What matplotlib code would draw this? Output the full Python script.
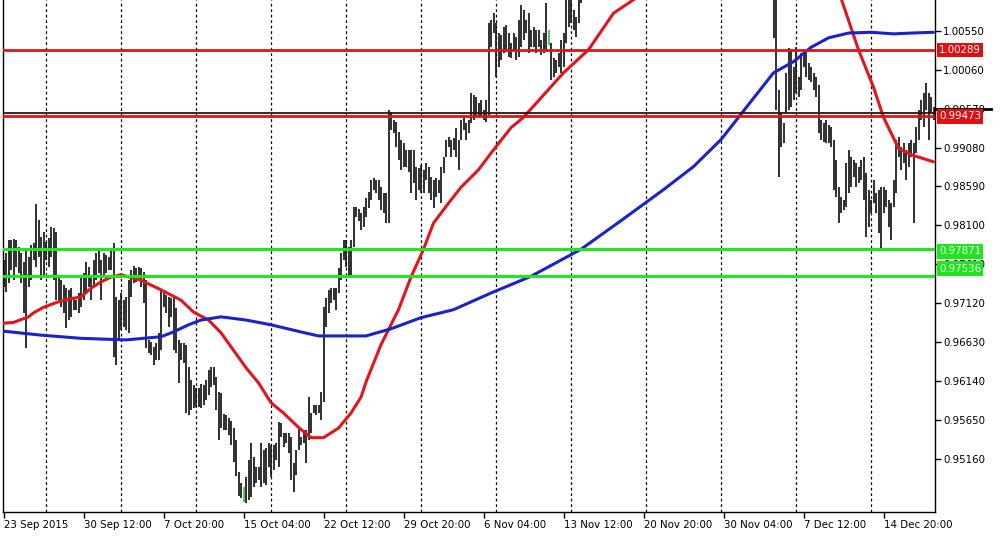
import matplotlib
matplotlib.use("Agg")
import matplotlib.pyplot as plt
import matplotlib.transforms as mtransforms
import numpy as np

# ---------------- data ----------------
highs_a = [
    0.9767, 0.9775, 0.9792, 0.9792, 0.9793, 0.9792, 0.9783, 0.9775, 0.9764, 0.9779, 0.9770, 0.9785, 0.9788, 0.9837, 0.9817, 0.9795,
    0.9802, 0.9789, 0.9794, 0.9808, 0.9807, 0.9802, 0.9744, 0.9741, 0.9735, 0.9731, 0.9729, 0.9731, 0.9720, 0.9716, 0.9725, 0.9745,
    0.9750, 0.9764, 0.9758, 0.9745, 0.9767, 0.9775, 0.9779, 0.9767, 0.9775, 0.9773, 0.9770, 0.9779, 0.9788, 0.9720, 0.9716, 0.9725,
    0.9716, 0.9720, 0.9741, 0.9754, 0.9759, 0.9756, 0.9758, 0.9756, 0.9751, 0.9741, 0.9666, 0.9663, 0.9657, 0.9662, 0.9675, 0.9729,
    0.9725, 0.9722, 0.9720, 0.9719, 0.9720, 0.9706, 0.9666, 0.9662, 0.9662, 0.9660, 0.9632, 0.9616, 0.9609, 0.9606, 0.9606, 0.9611,
    0.9609, 0.9616, 0.9628, 0.9632, 0.9632, 0.9619, 0.9600, 0.9599, 0.9573, 0.9572, 0.9568, 0.9564, 0.9555, 0.9540, 0.9500, 0.9486,
    0.9481, 0.9494, 0.9515, 0.9536, 0.9519, 0.9506, 0.9506, 0.9536, 0.9528, 0.9530, 0.9536, 0.9534, 0.9534, 0.9536, 0.9563, 0.9561,
    0.9549, 0.9549, 0.9549, 0.9544, 0.9511, 0.9528, 0.9556, 0.9544, 0.9553, 0.9553, 0.9594, 0.9574, 0.9584, 0.9584, 0.9584, 0.9600,
    0.9707, 0.9719, 0.9729, 0.9731, 0.9731, 0.9731, 0.9756, 0.9775, 0.9792, 0.9792, 0.9783, 0.9792, 0.9833, 0.9833, 0.9831, 0.9826,
    0.9833, 0.9845, 0.9852, 0.9867, 0.9870, 0.9867, 0.9867, 0.9858, 0.9851, 0.9851, 0.9955, 0.9953, 0.9943, 0.9940, 0.9928, 0.9917,
    0.9914, 0.9905, 0.9905, 0.9905, 0.9905, 0.9884, 0.9882, 0.9886, 0.9880, 0.9889, 0.9884, 0.9871, 0.9867, 0.9870, 0.9867, 0.9884,
    0.9896, 0.9917, 0.9921, 0.9917, 0.9920, 0.9933, 0.9917, 0.9943, 0.9946, 0.9939, 0.9943, 0.9977, 0.9974, 0.9972, 0.9964, 0.9968,
    0.9955, 0.9968, 1.0065, 1.0068, 1.0077, 1.0065, 1.0052, 1.0050, 1.0060, 1.0062, 1.0052, 1.0040, 1.0052, 1.0047, 1.0068, 1.0087,
    1.0081, 1.0068, 1.0077, 1.0056, 1.0060, 1.0056, 1.0056, 1.0043, 1.0052, 1.0090, 1.0056, 1.0040, 1.0021, 1.0018, 1.0027, 1.0043,
    1.0052, 1.0100, 1.0104, 1.0101, 1.0081, 1.0072, 1.0104, 1.0113,
]
lows_a = [
    0.9733, 0.9726, 0.9738, 0.9754, 0.9741, 0.9758, 0.9750, 0.9738, 0.9700, 0.9656, 0.9733, 0.9741, 0.9767, 0.9758, 0.9770, 0.9741,
    0.9745, 0.9767, 0.9758, 0.9770, 0.9741, 0.9716, 0.9716, 0.9707, 0.9700, 0.9681, 0.9691, 0.9695, 0.9704, 0.9704, 0.9700, 0.9707,
    0.9716, 0.9725, 0.9733, 0.9716, 0.9733, 0.9741, 0.9750, 0.9716, 0.9745, 0.9750, 0.9754, 0.9754, 0.9645, 0.9634, 0.9666, 0.9678,
    0.9682, 0.9678, 0.9675, 0.9720, 0.9738, 0.9739, 0.9741, 0.9733, 0.9712, 0.9656, 0.9650, 0.9647, 0.9634, 0.9641, 0.9641, 0.9653,
    0.9707, 0.9700, 0.9682, 0.9695, 0.9653, 0.9650, 0.9612, 0.9641, 0.9637, 0.9574, 0.9572, 0.9578, 0.9580, 0.9582, 0.9582, 0.9580,
    0.9584, 0.9590, 0.9597, 0.9607, 0.9609, 0.9578, 0.9540, 0.9555, 0.9553, 0.9553, 0.9546, 0.9534, 0.9512, 0.9495, 0.9470, 0.9467,
    0.9462, 0.9461, 0.9465, 0.9468, 0.9481, 0.9486, 0.9490, 0.9481, 0.9486, 0.9483, 0.9506, 0.9494, 0.9502, 0.9515, 0.9506, 0.9544,
    0.9531, 0.9536, 0.9524, 0.9490, 0.9475, 0.9496, 0.9528, 0.9534, 0.9536, 0.9511, 0.9540, 0.9549, 0.9574, 0.9572, 0.9574, 0.9565,
    0.9588, 0.9682, 0.9700, 0.9712, 0.9716, 0.9704, 0.9725, 0.9741, 0.9767, 0.9758, 0.9748, 0.9748, 0.9783, 0.9821, 0.9816, 0.9804,
    0.9808, 0.9821, 0.9832, 0.9842, 0.9855, 0.9851, 0.9842, 0.9829, 0.9826, 0.9813, 0.9813, 0.9930, 0.9926, 0.9909, 0.9892, 0.9880,
    0.9884, 0.9884, 0.9877, 0.9851, 0.9863, 0.9842, 0.9855, 0.9851, 0.9851, 0.9867, 0.9851, 0.9842, 0.9832, 0.9846, 0.9851, 0.9838,
    0.9876, 0.9896, 0.9909, 0.9896, 0.9905, 0.9896, 0.9880, 0.9917, 0.9930, 0.9917, 0.9926, 0.9939, 0.9943, 0.9946, 0.9946, 0.9946,
    0.9943, 0.9940, 0.9949, 1.0034, 1.0052, 0.9997, 1.0009, 1.0018, 1.0027, 1.0028, 1.0022, 1.0021, 1.0031, 1.0018, 1.0022, 1.0034,
    1.0043, 1.0052, 1.0027, 1.0034, 1.0034, 1.0027, 1.0034, 1.0024, 1.0027, 1.0031, 1.0037, 0.9993, 0.9997, 1.0002, 1.0009, 1.0002,
    1.0009, 1.0040, 1.0060, 1.0065, 1.0056, 1.0047, 1.0065, 1.0090,
]
# bars 232..307 lie above the visible price range (not shown in the picture)
hidden_bars = 76
highs_b = [
    1.0119, 1.0100, 0.9980, 0.9951, 0.9939, 1.0002, 1.0033, 1.0031, 1.0009, 1.0034, 0.9997, 1.0027, 1.0031, 1.0027, 1.0014, 1.0009,
    1.0002, 0.9997, 0.9987, 0.9943, 0.9939, 0.9943, 0.9936, 0.9934, 0.9917, 0.9892, 0.9858, 0.9846, 0.9842, 0.9889, 0.9905, 0.9896,
    0.9892, 0.9889, 0.9884, 0.9892, 0.9896, 0.9876, 0.9855, 0.9842, 0.9867, 0.9851, 0.9855, 0.9858, 0.9858, 0.9855, 0.9842, 0.9838,
    0.9867, 0.9917, 0.9921, 0.9909, 0.9914, 0.9905, 0.9914, 0.9917, 0.9914, 0.9934, 0.9955, 0.9968, 0.9977, 0.9989, 0.9977, 0.9972, 0.9959,
]
lows_b = [
    1.0046, 0.9955, 0.9871, 0.9909, 0.9914, 0.9951, 0.9955, 0.9959, 0.9968, 0.9977, 0.9972, 0.9980, 1.0009, 0.9997, 0.9993, 0.9990,
    0.9980, 0.9972, 0.9926, 0.9917, 0.9915, 0.9914, 0.9914, 0.9909, 0.9855, 0.9846, 0.9813, 0.9826, 0.9829, 0.9833, 0.9851, 0.9858,
    0.9871, 0.9858, 0.9863, 0.9867, 0.9842, 0.9795, 0.9808, 0.9826, 0.9838, 0.9826, 0.9800, 0.9782, 0.9826, 0.9833, 0.9808, 0.9792,
    0.9833, 0.9851, 0.9896, 0.9880, 0.9889, 0.9867, 0.9884, 0.9896, 0.9813, 0.9901, 0.9917, 0.9943, 0.9934, 0.9955, 0.9917, 0.9951, 0.9943,
]
green_bars = [96, 218]

red_ma_bar = [0, 4, 10, 12, 16, 22, 27, 31, 35, 39, 43, 47, 55, 63, 71, 76, 82, 87, 92, 97,
              102, 107, 112, 118, 123, 128, 134, 139, 143, 145, 151, 158, 163, 168, 172, 178, 183, 190, 195, 203,
              208, 216, 224, 234, 244, 253, 290, 335, 342, 348, 352, 358, 363, 372]
red_ma = [0.9687, 0.9688, 0.9695, 0.9700, 0.9707, 0.9714, 0.9718, 0.9720, 0.9731, 0.9739,
          0.9745, 0.9748, 0.9741, 0.9729, 0.9716, 0.9701, 0.9691, 0.9675, 0.9653, 0.9631,
          0.9612, 0.9587, 0.9574, 0.9556, 0.9543, 0.9543, 0.9555, 0.9574, 0.9594, 0.9613,
          0.9660, 0.9704, 0.9745, 0.9780, 0.9813, 0.9838, 0.9858, 0.9880, 0.9901, 0.9933,
          0.9946, 0.9974, 1.0002, 1.0031, 1.0077, 1.0096, None,
          1.0096, 1.0031, 0.9984, 0.9946, 0.9907, 0.9899, 0.9890]

blue_ma_bar = [0, 15, 31, 49, 63, 68, 74, 79, 87, 97, 107, 119, 126, 145, 155, 167, 180, 195, 211, 231,
               247, 264, 276, 287, 294, 303, 308, 316, 323, 330, 338, 347, 356, 363, 372]
blue_ma = [0.9677, 0.9672, 0.9668, 0.9666, 0.9670, 0.9676, 0.9685, 0.9691, 0.9695, 0.9691,
           0.9685, 0.9676, 0.9671, 0.9671, 0.9680, 0.9694, 0.9704, 0.9725, 0.9746, 0.9780,
           0.9816, 0.9855, 0.9884, 0.9918, 0.9946, 0.9982, 1.0002, 1.0016, 1.0034, 1.0046,
           1.0052, 1.0053, 1.0051, 1.0052, 1.0053]

x_tick_bars = [0, 32, 64, 96, 128, 160, 192, 224, 256, 288, 320, 352]
x_tick_labels = ["23 Sep 2015", "30 Sep 12:00", "7 Oct 20:00", "15 Oct 04:00", "22 Oct 12:00",
                 "29 Oct 20:00", "6 Nov 04:00", "13 Nov 12:00", "20 Nov 20:00", "30 Nov 04:00",
                 "7 Dec 12:00", "14 Dec 20:00"]
grid_bars = [17, 47, 77, 107, 137, 167, 197, 227, 257, 287, 317, 347]
price_ticks = [1.00550, 1.00060, 0.99570, 0.99080, 0.98590, 0.98100, 0.97610,
               0.97120, 0.96630, 0.96140, 0.95650, 0.95160]
red_levels = [1.00289, 0.99473]
red_line_levels = [1.0031, 0.99473]
green_levels = [0.97871, 0.97536]
green_line_levels = [0.97805, 0.97465]      # where the lines appear on the price scale
green_label_levels = [0.97775, 0.97555]     # where their labels sit on the price scale
bid_level = 0.99510

# ---------------- figure ----------------
plt.rcParams['font.family'] = ['DejaVu Sans']
fig = plt.figure(figsize=(10.01, 5.38), dpi=100)
fig.patch.set_facecolor('white')
ax = fig.add_axes([3 / 1001, 26 / 538, 932 / 1001, 512 / 538])
ax.set_facecolor('white')
ax.set_xlim(-0.2, 372.6)
ax.set_ylim(0.94495, 1.00936)

highs = highs_a + [None] * hidden_bars + highs_b
lows = lows_a + [None] * hidden_bars + lows_b
xs, hs, ls, cs = [], [], [], []
for i, (h, l) in enumerate(zip(highs, lows)):
    if h is None:
        continue
    xs.append(i); hs.append(h); ls.append(l)
    cs.append('#3cc43c' if i in green_bars else '#161616')
ax.vlines(xs, ls, hs, colors=cs, linewidth=1.25, zorder=2)

# grid
for g in grid_bars:
    ax.axvline(g, color='black', lw=0.9, ls=(0, (2.2, 2.2)), zorder=1)

# moving averages
r = np.array([np.nan if v is None else v for v in red_ma], dtype=float)
ax.plot(red_ma_bar, r, color='#e3141c', lw=2.2, zorder=3, solid_capstyle='round',
        solid_joinstyle='round')
ax.plot(blue_ma_bar, blue_ma, color='#1a22c8', lw=2.2, zorder=3, solid_capstyle='round',
        solid_joinstyle='round')

# horizontal levels
ax.axhline(bid_level, color='#3a0c0c', lw=1.3, zorder=4)
for lv in red_line_levels:
    ax.axhline(lv, color='#d81818', lw=2.0, zorder=4)
for lv in green_line_levels:
    ax.axhline(lv, color='#22e622', lw=2.2, zorder=4)

# spines
ax.spines['top'].set_visible(False)
for s in ['left', 'right', 'bottom']:
    ax.spines[s].set_color('black')
    ax.spines[s].set_linewidth(1.0)

# y axis on right
ax.yaxis.tick_right()
ax.set_yticks(price_ticks)
ax.set_yticklabels([f"{v:.5f}" for v in price_ticks])
ax.tick_params(axis='y', which='both', length=4, width=1, pad=2, labelsize=7.4, colors='black')

# x axis
ax.set_xticks(x_tick_bars)
ax.set_xticklabels(x_tick_labels)
ax.tick_params(axis='x', length=4, width=1, pad=1.5, labelsize=7.4, colors='black')
for lab in ax.get_xticklabels():
    lab.set_ha('left')

# price labels on right axis
trans = mtransforms.blended_transform_factory(ax.transAxes, ax.transData)
ax.plot([1.0, 1.06], [0.99570, 0.99570], transform=trans, color='black', lw=2.0,
        clip_on=False, zorder=5)
for lv, txt in zip(red_line_levels, red_levels):
    ax.text(1.0 + 4 / 932, lv, f"{txt:.5f}", transform=trans, ha='left', va='center',
            fontsize=7.4, color='white', zorder=6, clip_on=False,
            bbox=dict(boxstyle='square,pad=0.22', fc='#e01010', ec='none'))
for lv, txt in zip(green_label_levels, green_levels):
    ax.text(1.0 + 4 / 932, lv, f"{txt:.5f}", transform=trans, ha='left', va='center',
            fontsize=7.4, color='white', zorder=6, clip_on=False,
            bbox=dict(boxstyle='square,pad=0.22', fc='#1ee61e', ec='none'))

fig.savefig('out.png', dpi=100, facecolor='white')
